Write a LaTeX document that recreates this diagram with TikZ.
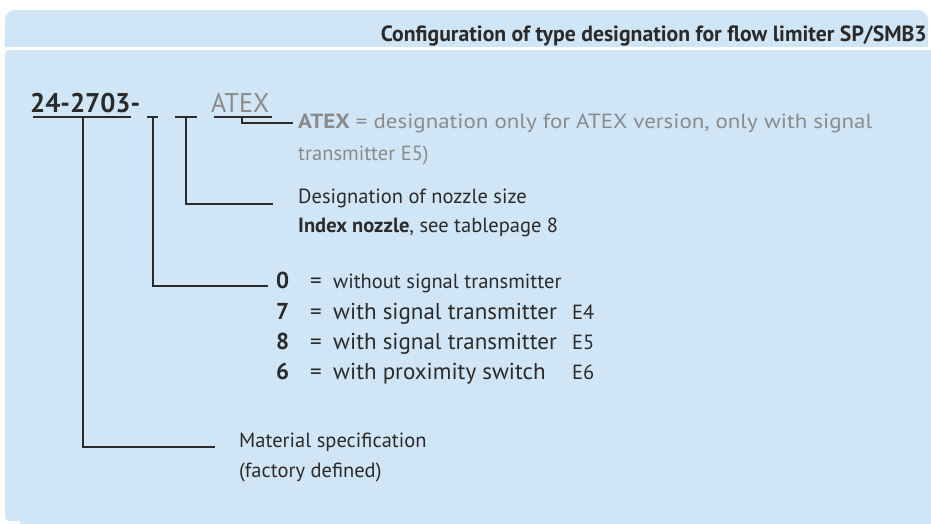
\documentclass[tikz,border=0pt]{standalone}
\usepackage{fontspec}
\setmainfont{PT Sans}
\usepackage{graphicx}
\definecolor{bgc}{HTML}{D0E6F6}
\definecolor{ink}{HTML}{2A2A2A}
\definecolor{grayt}{HTML}{8A8A8A}
\tikzset{
  txt/.style={inner sep=0pt, anchor=base west, text=ink, font=\fontsize{20.5}{25}\selectfont},
  bigtxt/.style={txt, font=\fontsize{23}{27}\selectfont},
  numtxt/.style={txt, font=\bfseries\fontsize{23}{27}\selectfont},
  graytxt/.style={txt, text=grayt},
  codetxt/.style={inner sep=0pt, anchor=base west, text=ink, font=\bfseries\fontsize{27}{30}\selectfont},
  conn/.style={draw=ink, line width=1.8pt},
  uline/.style={draw=ink, line width=1.8pt},
}
\begin{document}
\begin{tikzpicture}[x=1pt,y=-1pt]
\useasboundingbox (0,0) rectangle (931,523);
% background
\fill[bgc, rounded corners=10pt] (5,10) rectangle (928,40);
\fill[bgc] (5,25) rectangle (928,47);
\fill[bgc, rounded corners=4pt] (5,50) rectangle (940,521);
\fill[bgc] (20,50) rectangle (940,530);
% title
\node[inner sep=0pt, anchor=base east, text=ink, font=\bfseries\fontsize{22}{26}\selectfont] (title) at (927,41)
  {\resizebox{546pt}{\height}{Configuration of type designation for flow limiter SP/SMB3}};
% code line
\node[codetxt] (code) at (30,112) {\resizebox{110pt}{\height}{24-2703-}};
\node[codetxt, text=grayt, font=\fontsize{27}{30}\selectfont] (atexc) at (211,112) {\resizebox{58pt}{\height}{ATEX}};
% underline coordinates
\coordinate (u1a) at (33,117); \coordinate (u1b) at (131,117);
\coordinate (u2a) at (147,117); \coordinate (u2b) at (158,117);
\coordinate (u3a) at (175,117); \coordinate (u3b) at (197,117);
\coordinate (u4a) at (214,117); \coordinate (u4b) at (272,117);
\draw[uline] (u1a) -- (u1b);
\draw[uline] (u2a) -- (u2b);
\draw[uline] (u3a) -- (u3b);
\draw[uline] (u4a) -- (u4b);
\coordinate (s1) at (83,117);
\coordinate (s2) at (153,117);
\coordinate (s3) at (186,117);
\coordinate (s4) at (242,117);
% ATEX description
\node[graytxt] (atex) at (298,128) {\resizebox{574pt}{\height}{\textbf{ATEX} = designation only for ATEX version, only with signal}};
\node[graytxt] (atex2) at (298,160) {transmitter E5)};
% nozzle
\node[txt] (desig) at (298,203) {Designation of nozzle size};
\node[txt] (index) at (298,232) {\textbf{Index nozzle}, see tablepage 8};
% signal list
\node[numtxt] (n0) at (276,288) {0};
\node[bigtxt] (e0) at (310,288) {=};
\node[txt] (t0) at (333,288) {without signal transmitter};
\node[numtxt] (n7) at (276,319) {7};
\node[bigtxt] (e7) at (310,319) {=};
\node[bigtxt] (t7) at (333,319) {with signal transmitter};
\node[txt] (c7) at (572,319) {E4};
\node[numtxt] (n8) at (276,349) {8};
\node[bigtxt] (e8) at (310,349) {=};
\node[bigtxt] (t8) at (333,349) {with signal transmitter};
\node[txt] (c8) at (572,349) {E5};
\node[numtxt] (n6) at (276,379) {6};
\node[bigtxt] (e6) at (310,379) {=};
\node[bigtxt] (t6) at (333,379) {with proximity switch};
\node[txt] (c6) at (572,379) {E6};
% material
\node[txt] (mat) at (239,447) {Material specification};
\node[txt] (mat2) at (239,477) {(factory defined)};
% connectors
\draw[conn] (s1) |- ([xshift=-24pt]mat.base west);
\draw[conn] (s2) |- ([xshift=-8pt,yshift=2pt]n0.base west);
\draw[conn] (s3) |- ([xshift=-25pt,yshift=-1pt]desig.base west);
\draw[conn] (s4) |- ([xshift=-5pt,yshift=5pt]atex.base west);
\end{tikzpicture}
\end{document}
